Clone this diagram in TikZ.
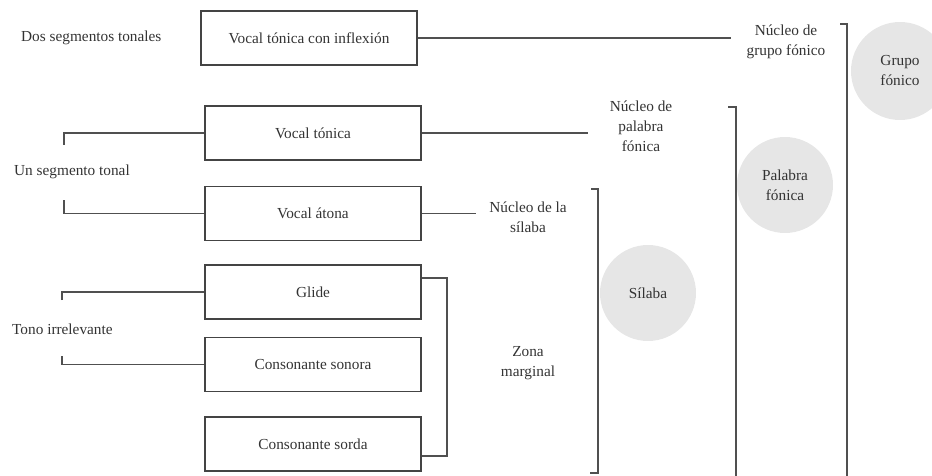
\documentclass[tikz,border=0pt]{standalone}
\usepackage{fontspec}
\setmainfont{Liberation Serif}
\begin{document}
\begin{tikzpicture}[x=1pt,y=-1pt,
  every node/.style={text=txtc, font=\fontsize{15.3}{20}\selectfont},
  box/.style={draw=boxc, line width=1.5pt, minimum width=216pt, minimum height=54pt, inner sep=0pt},
  lbl/.style={align=center, inner sep=0pt},
  side/.style={anchor=west, inner sep=0pt},
  conn/.style={draw=linec, line width=1.5pt},
  blob/.style={circle, fill=circc, minimum size=96pt, inner sep=0pt, align=center}]
\definecolor{txtc}{HTML}{333333}
\definecolor{boxc}{HTML}{444444}
\definecolor{linec}{HTML}{505050}
\definecolor{circc}{HTML}{E6E6E6}
\useasboundingbox (0,0) rectangle (932,476);
% circles
\node[blob] (sil) at (648,293) {Sílaba};
\node[blob] (pal) at (785,185) {Palabra\\fónica};
\node[blob, minimum size=98pt] (gru) at (900,71) {Grupo\\fónico};
% boxes
\node[box] (b1) at (309,38) {Vocal tónica con inflexión};
\node[box] (b2) at (313,133) {Vocal tónica};
\node[box] (b3) at (313,213.5) {Vocal átona};
\node[box] (b4) at (313,292) {Glide};
\node[box] (b5) at (313,364.5) {Consonante sonora};
\node[box] (b6) at (313,444) {Consonante sorda};
% left labels
\node[side] (dos) at (21,38) {Dos segmentos tonales};
\node[side] (un) at (14,172) {Un segmento tonal};
\node[side] (tono) at (12,329) {Tono irrelevante};
% right labels
\node[lbl] (ngf) at (786,42) {Núcleo de\\grupo fónico};
\node[lbl] (npf) at (641,126) {Núcleo de\\palabra\\fónica};
\node[lbl] (nsil) at (528,217) {Núcleo de la\\sílaba};
\node[lbl] (zona) at (528,363) {Zona\\marginal};
% coordinates
\coordinate (e1) at (731,38);
\coordinate (e2) at (588,133);
\coordinate (e3) at (476,213.5);
\coordinate (l2) at (64,145);
\coordinate (l3) at (64,200);
\coordinate (l4) at (62,300);
\coordinate (l5) at (62,356);
% connectors
\draw[conn] (b1.east) -- (e1);
\draw[conn] (b2.east) -- (e2);
\draw[conn] (b3.east) -- (e3);
\draw[conn] (l2) -- (l2 |- b2.west) -- (b2.west);
\draw[conn] (l3) -- (l3 |- b3.west) -- (b3.west);
\draw[conn] (l4) -- (l4 |- b4.west) -- (b4.west);
\draw[conn] (l5) -- (l5 |- b5.west) -- (b5.west);
\draw[conn] ([yshift=14pt]b4.east) -- ++(25,0) |- ([yshift=-12pt]b6.east);
% brackets
\draw[conn] (591,189) -- (598,189) -- (598,473) -- (590,473);
\draw[conn] (728,107) -- (736,107) -- (736,480);
\draw[conn] (840,24) -- (847,24) -- (847,480);
\end{tikzpicture}
\end{document}
